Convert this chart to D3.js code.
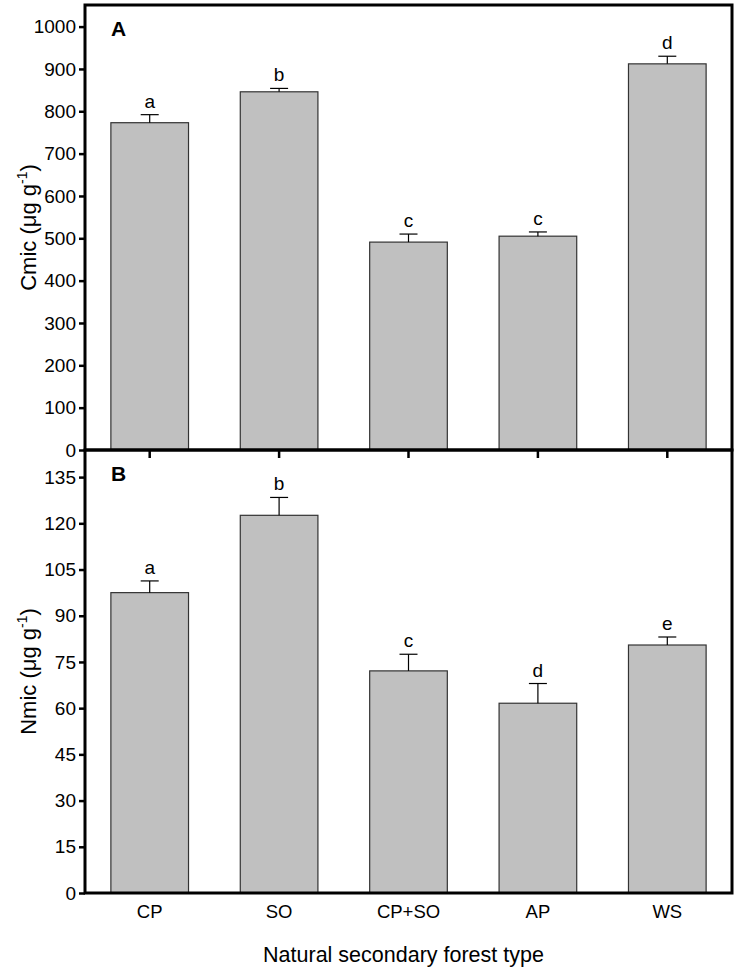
<!DOCTYPE html>
<html><head><meta charset="utf-8">
<script src="https://cdn.jsdelivr.net/npm/d3@7"></script>
<style>body{margin:0;background:#fff}svg{display:block}text{font-family:"Liberation Sans",Arial,sans-serif}</style>
</head><body><svg id="c" width="739" height="973"></svg>
<script>
const categories = ["CP","SO","CP+SO","AP","WS"];
const cmicValues = [773, 846, 491, 505, 912];
const cmicErrors = [19, 8, 19, 10, 18];
const cmicLetters = ["a","b","c","c","d"];
const nmicValues = [97.5, 122.6, 72.1, 61.6, 80.5];
const nmicErrors = [3.8, 5.8, 5.4, 6.4, 2.6];
const nmicLetters = ["a","b","c","d","e"];
const cmicTicks = [0,100,200,300,400,500,600,700,800,900,1000];
const nmicTicks = [0,15,30,45,60,75,90,105,120,135];

const svg = d3.select("#c");
const L = 85, R = 732;
const FF = "Liberation Sans, Arial, sans-serif";
const x = d3.scaleBand().domain(categories).range([L, R]).paddingInner(0.4).paddingOuter(0.2);

function panel(top, bottom, ymax, vals, errs, letters, ticks, title, label, showCats) {
  const y = d3.scaleLinear().domain([0, ymax]).range([bottom, top]);
  const g = svg.append("g");
  g.selectAll("rect.bar").data(categories).enter().append("rect")
    .attr("x", d => x(d)).attr("width", x.bandwidth())
    .attr("y", (d,i) => y(vals[i])).attr("height", (d,i) => bottom - y(vals[i]))
    .attr("fill", "#c0c0c0").attr("stroke", "#333").attr("stroke-width", 1.2);
  categories.forEach((c,i) => {
    const cx = x(c) + x.bandwidth()/2;
    g.append("line").attr("x1", cx).attr("x2", cx).attr("y1", y(vals[i])).attr("y2", y(vals[i]+errs[i])).attr("stroke","#000").attr("stroke-width",1.2);
    g.append("line").attr("x1", cx-9).attr("x2", cx+9).attr("y1", y(vals[i]+errs[i])).attr("y2", y(vals[i]+errs[i])).attr("stroke","#000").attr("stroke-width",1.2);
    g.append("text").attr("x", cx).attr("y", y(vals[i]+errs[i]) - 7).attr("text-anchor","middle")
      .attr("font-size", 19).text(letters[i]);
  });
  const ya = g.append("g").attr("transform", `translate(${L},0)`)
    .call(d3.axisLeft(y).tickValues(ticks).tickSize(6).tickPadding(3).tickFormat(d3.format("d")));
  ya.select(".domain").remove();
  ya.selectAll(".tick line").attr("stroke","#000").attr("stroke-width",2.5);
  ya.selectAll(".tick text").attr("font-size", 19).attr("fill","#000").attr("font-family",FF);
  const xa = g.append("g").attr("transform", `translate(0,${bottom})`)
    .call(d3.axisBottom(x).tickSize(showCats ? 0 : 8).tickPadding(showCats ? 12 : 3));
  xa.select(".domain").remove();
  xa.selectAll(".tick line").attr("stroke","#000").attr("stroke-width",2.5);
  if (showCats) xa.selectAll(".tick text").attr("font-size", 18.5).attr("fill","#000").attr("font-family",FF);
  else xa.selectAll(".tick text").remove();
  g.append("rect").attr("x", L).attr("y", top).attr("width", R-L).attr("height", bottom-top)
    .attr("fill","none").attr("stroke","#000").attr("stroke-width",3);
  g.append("text").attr("x", L+26).attr("y", top+31).attr("font-size", 21).attr("font-weight","bold").text(label);
  const cy = (top+bottom)/2;
  const t = g.append("text").attr("transform", `translate(36,${cy}) rotate(-90)`).attr("text-anchor","middle").attr("font-size", 22);
  t.append("tspan").text(title + " (μg g");
  t.append("tspan").attr("dy", -9).attr("font-size", 14).text("-1");
  t.append("tspan").attr("dy", 9).text(")");
}

panel(5, 450, 1051, cmicValues, cmicErrors, cmicLetters, cmicTicks, "Cmic", "A", false);
panel(450, 893, 143.8, nmicValues, nmicErrors, nmicLetters, nmicTicks, "Nmic", "B", true);

svg.append("text").attr("x", (L+R)/2 - 5).attr("y", 962).attr("text-anchor","middle").attr("font-size", 21.5).text("Natural secondary forest type");
</script></body></html>
